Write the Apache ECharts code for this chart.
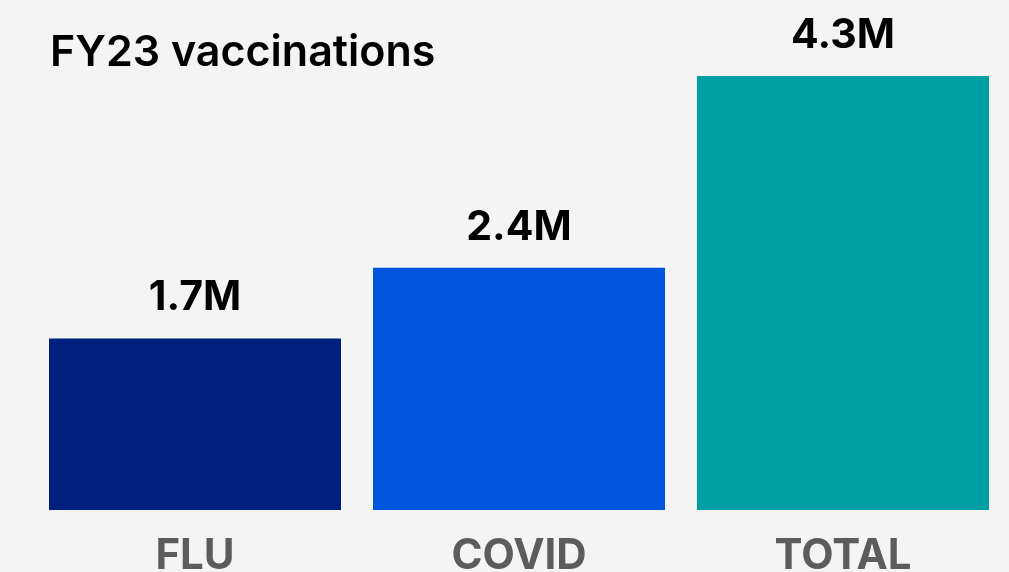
<!DOCTYPE html>
<html>
<head>
<meta charset="utf-8">
<script src="https://cdn.jsdelivr.net/npm/echarts@6/dist/echarts.min.js"></script>
<style>
  html, body { margin: 0; padding: 0; background: #f4f4f4; }
  #chart { width: 1009px; height: 572px; }
</style>
</head>
<body>
<div id="chart"></div>
<script>
// Vaccinations delivered in FY23, in millions
const categories = ['FLU', 'COVID', 'TOTAL'];
const vaccinations = [1.7, 2.4, 4.3];
const barColors = ['#00207f', '#0055de', '#009fa3'];
const titleText = 'FY23 vaccinations';

const FONT = 'Inter, "Noto Sans", sans-serif';

const chart = echarts.init(document.getElementById('chart'), null, { renderer: 'canvas' });

chart.setOption({
  backgroundColor: '#f4f4f4',
  animation: false,
  title: {
    text: titleText,
    left: 45,
    top: 27,
    textStyle: { fontFamily: FONT, fontSize: 43, fontWeight: 600, color: '#000000' }
  },
  grid: {
    left: 33, right: 4, top: 76, bottom: 62,
    containLabel: false,
    outerBoundsMode: 'none'
  },
  xAxis: {
    type: 'category',
    data: categories,
    axisLine: { show: false },
    axisTick: { show: false },
    axisLabel: {
      margin: 25,
      fontFamily: FONT,
      fontSize: 42,
      fontWeight: 700,
      color: '#5c5c5c'
    }
  },
  yAxis: {
    type: 'value',
    min: 0,
    max: 4.3,
    show: false,
    splitLine: { show: false }
  },
  series: [{
    type: 'bar',
    barWidth: 292,
    data: vaccinations.map((v, i) => ({ value: v, itemStyle: { color: barColors[i] } })),
    label: {
      show: true,
      position: 'top',
      distance: 20,
      formatter: p => p.value + 'M',
      fontFamily: FONT,
      fontSize: 41,
      fontWeight: 700,
      color: '#000000'
    }
  }]
});
</script>
</body>
</html>
